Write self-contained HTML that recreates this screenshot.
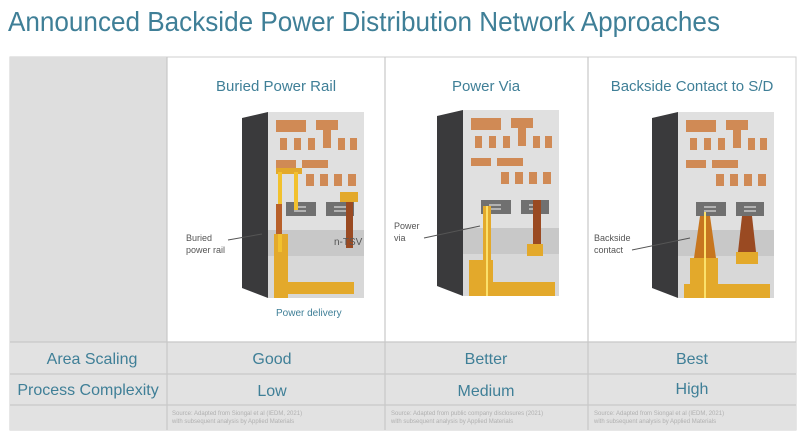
<!DOCTYPE html>
<html><head><meta charset="utf-8"><style>
body{margin:0;width:800px;height:435px;background:#fff;overflow:hidden;font-family:"Liberation Sans",sans-serif}
</style></head><body>
<svg width="800" height="435" xmlns="http://www.w3.org/2000/svg" font-family="Liberation Sans, sans-serif">
<defs>
<g id="chip">
  <polygon points="0,6 26,0 26,186 0,176" fill="#3a3a3c"/>
  <rect x="26" y="0" width="96" height="186" fill="#e0e0e0"/>
  <rect x="26" y="118" width="96" height="26" fill="#c8c8c8"/>
  <rect x="26" y="144" width="96" height="42" fill="#d8d8d8"/>
  <rect x="34" y="8" width="30" height="12" fill="#d08a55"/>
  <rect x="74" y="8" width="22" height="10" fill="#d08a55"/>
  <rect x="81" y="18" width="8" height="18" fill="#d08a55"/>
  <rect x="38" y="26" width="7" height="12" fill="#d08a55"/>
  <rect x="52" y="26" width="7" height="12" fill="#d08a55"/>
  <rect x="66" y="26" width="7" height="12" fill="#d08a55"/>
  <rect x="96" y="26" width="7" height="12" fill="#d08a55"/>
  <rect x="108" y="26" width="7" height="12" fill="#d08a55"/>
  <rect x="34" y="48" width="20" height="8" fill="#d08a55"/>
  <rect x="60" y="48" width="26" height="8" fill="#d08a55"/>
  <rect x="64" y="62" width="8" height="12" fill="#d08a55"/>
  <rect x="78" y="62" width="8" height="12" fill="#d08a55"/>
  <rect x="92" y="62" width="8" height="12" fill="#d08a55"/>
  <rect x="106" y="62" width="8" height="12" fill="#d08a55"/>
  <rect x="44" y="90" width="30" height="14" fill="#707070"/>
  <rect x="84" y="90" width="28" height="14" fill="#707070"/>
  <g stroke="#ddd" stroke-width="1.2"><line x1="52" y1="95" x2="64" y2="95"/><line x1="52" y1="99" x2="64" y2="99"/><line x1="92" y1="95" x2="104" y2="95"/><line x1="92" y1="99" x2="104" y2="99"/></g>
</g>
</defs>
<text x="8" y="31" font-size="28" fill="#3f7f97" textLength="712" lengthAdjust="spacingAndGlyphs">Announced Backside Power Distribution Network Approaches</text>
<rect x="10" y="57" width="786" height="373" fill="#fff" stroke="#cfcfcf"/>
<rect x="10" y="57" width="157" height="285" fill="#dedede"/>
<rect x="10" y="342" width="786" height="88" fill="#e2e2e2"/>
<g stroke="#c8c8c8" stroke-width="1.2">
<line x1="167" y1="57" x2="167" y2="430"/><line x1="385" y1="57" x2="385" y2="430"/><line x1="588" y1="57" x2="588" y2="430"/>
<line x1="10" y1="342" x2="796" y2="342"/><line x1="10" y1="374" x2="796" y2="374"/><line x1="10" y1="405" x2="796" y2="405"/>
</g>
<g fill="#3f7f97" text-anchor="middle">
<text x="276" y="91" font-size="15">Buried Power Rail</text>
<text x="486" y="91" font-size="15">Power Via</text>
<text x="692" y="91" font-size="15">Backside Contact to S/D</text>
<text x="92" y="364" font-size="16">Area Scaling</text>
<text x="88" y="395" font-size="16">Process Complexity</text>
<text x="272" y="364" font-size="16">Good</text>
<text x="486" y="364" font-size="16">Better</text>
<text x="692" y="364" font-size="16">Best</text>
<text x="272" y="396" font-size="16">Low</text>
<text x="486" y="396" font-size="16">Medium</text>
<text x="692" y="394" font-size="16">High</text>
</g>
<g fill="#b0b0b0" font-size="6">
<text x="172" y="415">Source: Adapted from Siongal et al (IEDM, 2021)</text><text x="172" y="423">with subsequent analysis by Applied Materials</text>
<text x="391" y="415">Source: Adapted from public company disclosures (2021)</text><text x="391" y="423">with subsequent analysis by Applied Materials</text>
<text x="594" y="415">Source: Adapted from Siongal et al (IEDM, 2021)</text><text x="594" y="423">with subsequent analysis by Applied Materials</text>
</g>
<g transform="translate(242,112)">
<use href="#chip"/>
<rect x="32" y="122" width="14" height="64" fill="#e3a92b"/>
<rect x="32" y="170" width="80" height="12" fill="#e3a92b"/>
<rect x="34" y="56" width="26" height="6" fill="#e3a92b"/>
<rect x="36" y="60" width="4" height="80" fill="#f2c12e"/>
<rect x="52" y="60" width="4" height="38" fill="#f2c12e"/>
<rect x="34" y="92" width="6" height="30" fill="#b8602a"/>
<rect x="104" y="90" width="7" height="46" fill="#9a4a22"/>
<rect x="98" y="80" width="18" height="10" fill="#e3a92b"/>
</g>
<text x="186" y="241" font-size="9" fill="#555">Buried</text><text x="186" y="253" font-size="9" fill="#555">power rail</text>
<line x1="228" y1="240" x2="262" y2="234" stroke="#555"/>
<text x="334" y="245" font-size="10" fill="#555">n-TSV</text>
<text x="276" y="316" font-size="10" fill="#3f7f97">Power delivery</text>
<g transform="translate(437,110)">
<use href="#chip"/>
<rect x="46" y="96" width="8" height="90" fill="#e3a92b"/>
<rect x="32" y="150" width="24" height="36" fill="#e3a92b"/>
<rect x="32" y="172" width="86" height="14" fill="#e3a92b"/>
<rect x="49" y="96" width="2" height="90" fill="#fbe06a"/>
<rect x="96" y="90" width="8" height="44" fill="#9a4a22"/>
<rect x="90" y="134" width="16" height="12" fill="#e3a92b"/>
</g>
<text x="394" y="229" font-size="9" fill="#555">Power</text><text x="394" y="241" font-size="9" fill="#555">via</text>
<line x1="424" y1="238" x2="480" y2="226" stroke="#555"/>
<g transform="translate(652,112)">
<use href="#chip"/>
<polygon points="48,104 58,104 64,146 42,146" fill="#c7761f"/>
<rect x="38" y="146" width="28" height="40" fill="#e3a92b"/>
<rect x="32" y="172" width="86" height="14" fill="#e3a92b"/>
<rect x="52" y="100" width="2" height="86" fill="#fbe06a"/>
<polygon points="90,104 100,104 104,140 86,140" fill="#9a4a22"/>
<rect x="84" y="140" width="22" height="12" fill="#e3a92b"/>
</g>
<text x="594" y="241" font-size="9" fill="#555">Backside</text><text x="594" y="253" font-size="9" fill="#555">contact</text>
<line x1="632" y1="250" x2="690" y2="238" stroke="#555"/>
</svg>
</body></html>
